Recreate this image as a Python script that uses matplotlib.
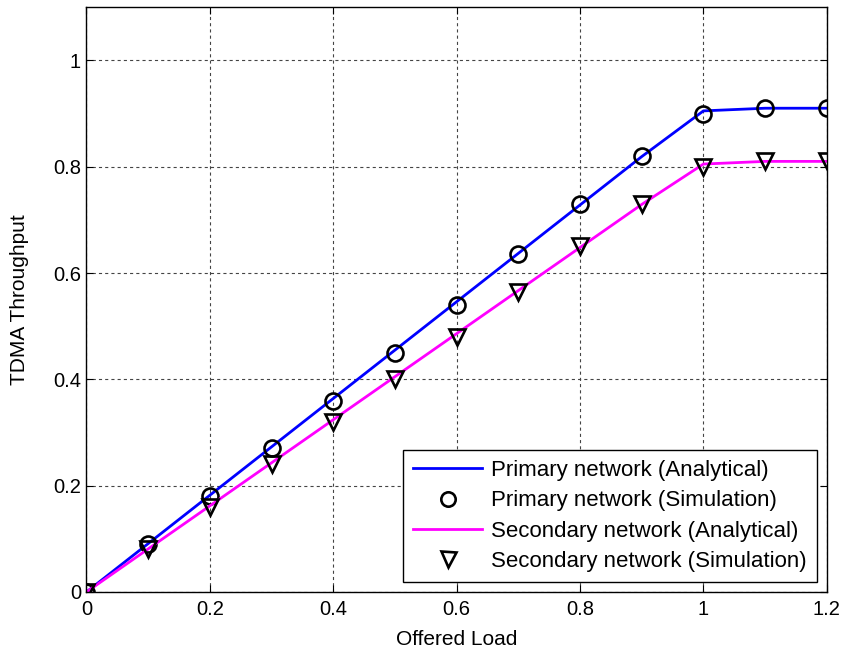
import matplotlib.pyplot as plt

plt.rcParams['font.family'] = ['Liberation Sans', 'DejaVu Sans']

load = [0, 0.1, 0.2, 0.3, 0.4, 0.5, 0.6, 0.7, 0.8, 0.9, 1.0, 1.1, 1.2]
primary_analytical = [0, 0.091, 0.182, 0.273, 0.364, 0.455, 0.546, 0.637, 0.728, 0.819, 0.905, 0.91, 0.91]
primary_sim = [0, 0.09, 0.18, 0.27, 0.36, 0.45, 0.54, 0.635, 0.73, 0.82, 0.90, 0.91, 0.91]
secondary_analytical = [0, 0.081, 0.162, 0.243, 0.324, 0.405, 0.486, 0.567, 0.648, 0.729, 0.805, 0.81, 0.81]
secondary_sim = [0, 0.08, 0.16, 0.24, 0.32, 0.40, 0.48, 0.565, 0.65, 0.73, 0.80, 0.81, 0.81]

fig = plt.figure(figsize=(8.48, 6.57), dpi=100)
ax = fig.add_axes([0.102, 0.099, 0.873, 0.89])

ax.plot(load, primary_analytical, color='#0000ff', lw=2.0, label='Primary network (Analytical)')
ax.plot(load, primary_sim, 'o', mfc='none', mec='black', mew=1.9, ms=11.5, label='Primary network (Simulation)')
ax.plot(load, secondary_analytical, color='#ff00ff', lw=2.0, label='Secondary network (Analytical)')
ax.plot(load, secondary_sim, 'v', mfc='none', mec='black', mew=1.9, ms=12, label='Secondary network (Simulation)')

ax.set_xlim(0, 1.2)
ax.set_ylim(0, 1.1)
ax.set_xticks([0, 0.2, 0.4, 0.6, 0.8, 1, 1.2])
ax.set_xticklabels(['0', '0.2', '0.4', '0.6', '0.8', '1', '1.2'])
ax.set_yticks([0, 0.2, 0.4, 0.6, 0.8, 1])
ax.set_yticklabels(['0', '0.2', '0.4', '0.6', '0.8', '1'])
ax.tick_params(direction='in', top=True, right=True, length=5, labelsize=14.5)
ax.tick_params(axis='x', pad=6)
ax.tick_params(axis='y', pad=4)
ax.grid(True, color='#444444', linestyle=(0, (2.8, 2.8)), linewidth=0.8)
for s in ax.spines.values():
    s.set_linewidth(1.0)

ax.set_xlabel('Offered Load', fontsize=15)
ax.set_ylabel('TDMA Throughput', fontsize=15)
ax.xaxis.set_label_coords(0.5, -0.065)
ax.yaxis.set_label_coords(-0.078, 0.5)

leg = ax.legend(loc='lower right', fontsize=16, frameon=True, fancybox=False,
                edgecolor='black', framealpha=1, borderaxespad=0.45,
                handlelength=3.1, handletextpad=0.4, labelspacing=0.42,
                borderpad=0.45, markerscale=0.9)
leg.get_frame().set_linewidth(1.0)

plt.savefig('out.png', dpi=100)
